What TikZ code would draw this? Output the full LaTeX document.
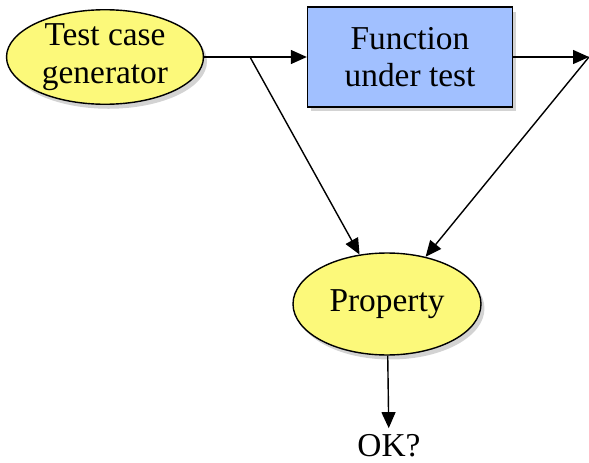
\documentclass[tikz,border=0pt]{standalone}
\usepackage{fontspec}
\setmainfont{Liberation Serif}
\usetikzlibrary{arrows.meta,shapes.geometric,shadows}
\definecolor{propyellow}{RGB}{252,249,122}
\definecolor{funcblue}{RGB}{161,192,255}
\begin{document}
\begin{tikzpicture}[x=0.02cm, y=-0.02cm, >={Triangle[length=0.32cm, width=0.28cm]},
      font=\fontsize{19}{21.5}\selectfont, line width=0.8pt,
      blob/.style={draw, ellipse, fill=propyellow, align=center, inner sep=0pt,
        drop shadow={shadow xshift=0.07cm, shadow yshift=-0.09cm, opacity=0.35}},
      fbox/.style={draw, rectangle, fill=funcblue, align=center, minimum width=4.1cm, minimum height=2.0cm,
        drop shadow={shadow xshift=0.07cm, shadow yshift=-0.09cm, opacity=0.35}}]
      \useasboundingbox (0,0) rectangle (589,463);
      \node[blob, minimum width=3.94cm, minimum height=1.78cm] (gen)  at (105,57)  {Test case\\generator};
      \node[fbox] (fut)  at (410,57)  {Function\\under test};
      \node[blob, minimum width=3.76cm, minimum height=2.04cm] (prop) at (387,304) {Property};
      \node (ok) at (389,446) {OK?};
      \coordinate (split) at (250,57);
      \coordinate (out)   at (589,57);
      \draw[->] (gen) -- (fut);
      \draw[->] (split) -- (prop);
      \draw[->] (fut) -- (out);
      \draw[->] (out) -- (prop);
      \draw[->] (prop) -- (ok);
    \end{tikzpicture}
\end{document}
